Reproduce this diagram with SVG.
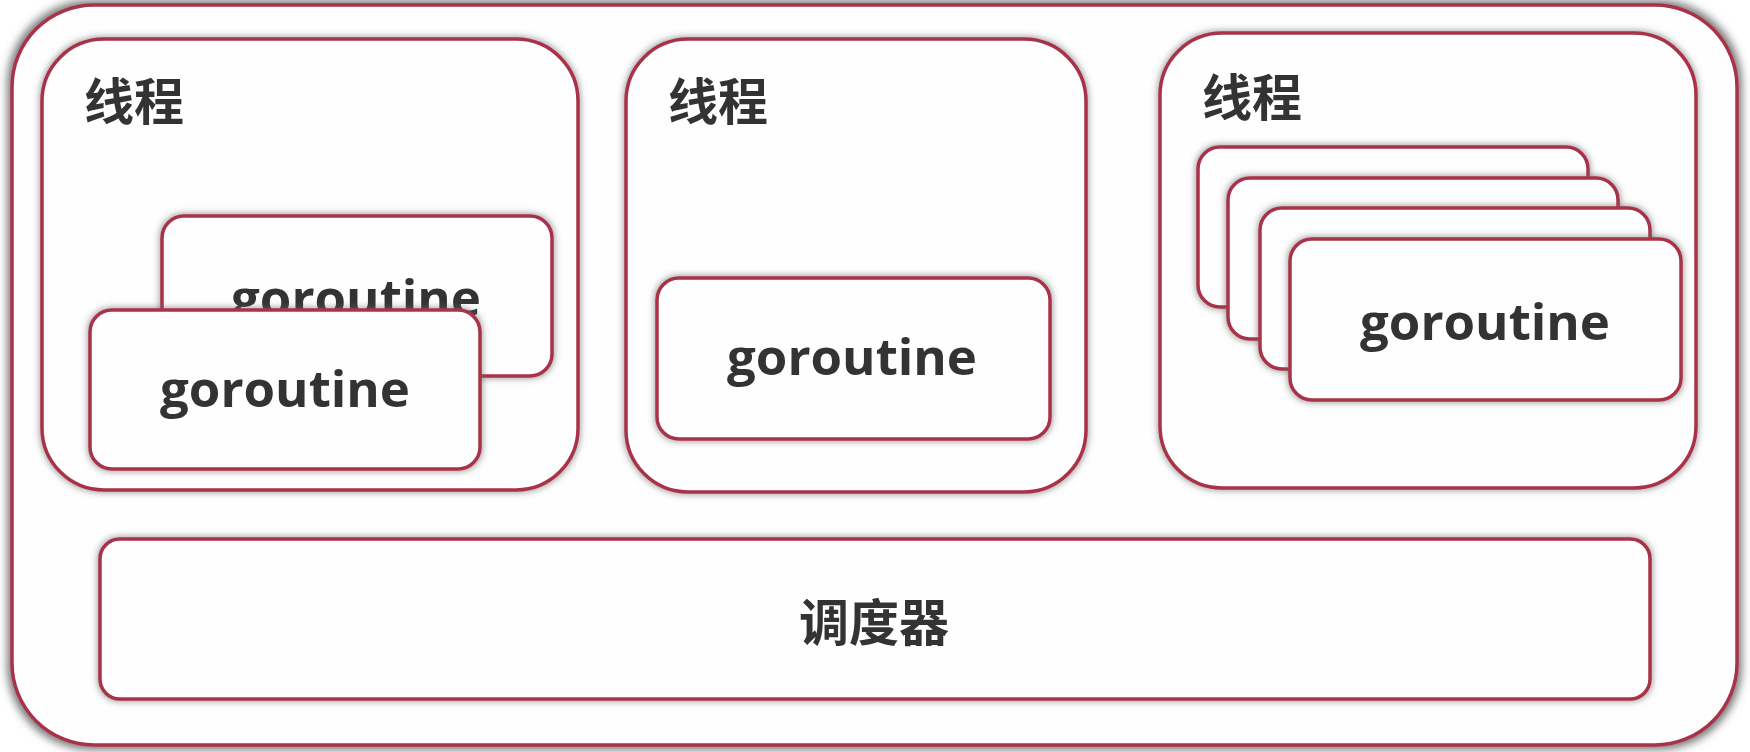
<svg xmlns="http://www.w3.org/2000/svg" width="1750" height="752" viewBox="0 0 1750 752">
  <defs>
    <filter id="shBig" x="-5%" y="-5%" width="110%" height="110%">
      <feMorphology in="SourceAlpha" operator="dilate" radius="3" result="d"/>
      <feGaussianBlur in="d" stdDeviation="4" result="b"/>
      <feFlood flood-color="#555" flood-opacity="0.8"/>
      <feComposite in2="b" operator="in" result="s"/>
      <feMerge><feMergeNode in="s"/><feMergeNode in="SourceGraphic"/></feMerge>
    </filter>
    <filter id="sh" x="-10%" y="-10%" width="120%" height="120%">
      <feMorphology in="SourceAlpha" operator="dilate" radius="1" result="d"/>
      <feGaussianBlur in="d" stdDeviation="3" result="b"/>
      <feFlood flood-color="#666" flood-opacity="0.6"/>
      <feComposite in2="b" operator="in" result="s"/>
      <feMerge><feMergeNode in="s"/><feMergeNode in="SourceGraphic"/></feMerge>
    </filter>
  </defs>
  <style>
    .box { fill: #fefefe; stroke: #a9334a; stroke-width: 3.5; }
    .outer { filter: url(#shBig); }
    .shd { filter: url(#sh); }
    .cjk { font-family: "Noto Sans CJK SC", "Noto Sans", sans-serif; font-weight: 700; font-size: 50px; fill: #333; }
    .go { font-family: "Open Sans", "Liberation Sans", sans-serif; font-weight: 700; font-size: 51px; fill: #333; text-anchor: middle; }
  </style>
  <rect width="1750" height="752" fill="#ffffff"/>

  <g id="runtime">
    <rect class="box outer" x="12" y="5" width="1725" height="740" rx="82" ry="82"/>
  </g>

  <g id="thread1">
    <rect class="box shd" x="42" y="39" width="536" height="451" rx="62" ry="62"/>
    <text class="cjk" x="84" y="120">线程</text>
  </g>
  <g id="thread2">
    <rect class="box shd" x="626" y="39" width="460" height="453" rx="62" ry="62"/>
    <text class="cjk" x="668" y="120">线程</text>
  </g>
  <g id="thread3">
    <rect class="box shd" x="1160" y="33" width="536" height="455" rx="62" ry="62"/>
    <text class="cjk" x="1202" y="116">线程</text>
  </g>

  <g id="t1-goroutine-back">
    <rect class="box shd" x="162" y="216" width="390" height="160" rx="22" ry="22"/>
    <text class="go" x="356" y="316">goroutine</text>
  </g>
  <g id="t1-goroutine-front">
    <rect class="box shd" x="90" y="310" width="390" height="159" rx="22" ry="22"/>
    <text class="go" x="285" y="407">goroutine</text>
  </g>

  <g id="t2-goroutine">
    <rect class="box shd" x="657" y="278" width="393" height="161" rx="22" ry="22"/>
    <text class="go" x="852" y="375">goroutine</text>
  </g>

  <g id="t3-goroutine-4">
    <rect class="box shd" x="1198" y="147" width="390" height="160" rx="22" ry="22"/>
  </g>
  <g id="t3-goroutine-3">
    <rect class="box shd" x="1228" y="178" width="390" height="161" rx="22" ry="22"/>
  </g>
  <g id="t3-goroutine-2">
    <rect class="box shd" x="1260" y="208" width="390" height="161" rx="22" ry="22"/>
  </g>
  <g id="t3-goroutine-1">
    <rect class="box shd" x="1290" y="239" width="391" height="161" rx="22" ry="22"/>
    <text class="go" x="1485" y="340">goroutine</text>
  </g>

  <g id="scheduler">
    <rect class="box shd" x="100" y="539" width="1550" height="160" rx="20" ry="20"/>
    <text class="cjk" x="874" y="641" text-anchor="middle">调度器</text>
  </g>

  <g id="connectors"/>
</svg>
